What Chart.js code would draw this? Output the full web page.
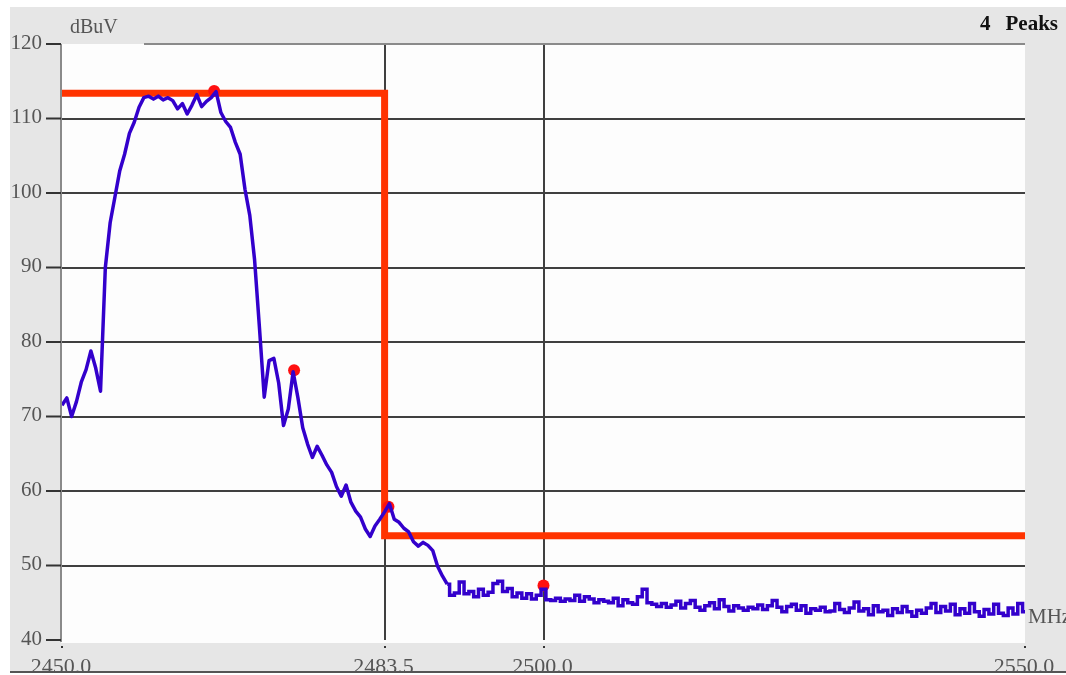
<!DOCTYPE html>
<html>
<head>
<meta charset="utf-8">
<title>Spectrum – 2450–2550 MHz</title>
<script src="https://cdn.jsdelivr.net/npm/chart.js@4/dist/chart.umd.min.js"></script>
<style>
  html, body { margin: 0; padding: 0; background: #fff; }
  canvas { display: block; }
</style>
</head>
<body>
<canvas id="spectrum" width="1066" height="675"></canvas>
<script>
/* ── Spectrum plot ────────────────────────────────────────────────────
   Analyzer trace (dBuV vs MHz) with the limit mask and 4 marked peaks.
   ──────────────────────────────────────────────────────────────────── */

const COLORS = {
  frame: '#e6e6e6',
  plot: '#fdfdfd',
  grid: '#404040',
  axis: '#8a8a8a',
  text: '#555',
  trace: '#3300cc',
  limit: '#ff3300',
  peak: '#ff1010',
};
const SERIF = '"Liberation Serif", "DejaVu Serif", serif';

// Sweep: one reading every 0.5 MHz from 2450.0 to 2550.0
const SWEEP_START = 2450;
const SWEEP_STEP = 0.5;
const traceLevel = [
  71.5, 72.5, 70.0, 72.0, 74.6, 76.3, 78.8, 76.5, 73.4, 90.0,        // 2450.0
  96.0, 99.5, 103.0, 105.2, 108.0, 109.5, 111.5, 112.8, 113.0, 112.6, // 2455.0
  113.0, 112.5, 112.8, 112.4, 111.3, 112.0, 110.6, 111.8, 113.2, 111.6, // 2460.0
  112.3, 112.8, 113.6, 110.8, 109.6, 108.8, 106.8, 105.2, 100.5, 97.0, // 2465.0
  91.0, 82.0, 72.6, 77.5, 77.8, 74.5, 68.8, 71.0, 76.0, 72.5,        // 2470.0
  68.5, 66.3, 64.5, 66.0, 64.8, 63.5, 62.5, 60.6, 59.3, 60.8,        // 2475.0
  58.5, 57.3, 56.5, 54.9, 53.9, 55.3, 56.2, 57.2, 58.3, 56.2,        // 2480.0
  55.8, 55.0, 54.5, 53.2, 52.6, 53.1, 52.7, 52.0, 49.9, 48.6,        // 2485.0
  47.5, 46.0, 46.3, 47.8, 46.2, 46.5, 45.8, 46.8, 46.0, 46.4,        // 2490.0
  47.6, 47.9, 46.5, 46.9, 45.8, 46.3, 45.6, 46.2, 45.5, 46.0,        // 2495.0
  46.8, 45.4, 45.3, 45.6, 45.2, 45.5, 45.3, 46.0, 45.2, 45.8,        // 2500.0
  45.5, 45.0, 45.4, 45.2, 45.0, 45.6, 44.6, 45.4, 45.0, 44.8,        // 2505.0
  45.8, 46.8, 45.0, 44.8, 44.5, 44.9, 44.4, 44.7, 45.2, 44.3,        // 2510.0
  44.9, 45.3, 44.4, 44.0, 44.6, 45.0, 44.2, 45.4, 44.5, 43.9,        // 2515.0
  44.6, 44.3, 44.0, 44.4, 44.2, 44.7, 44.1, 44.6, 45.3, 44.4,        // 2520.0
  43.8, 44.5, 44.8, 44.0, 44.6, 43.6, 44.2, 44.0, 44.4, 43.8,        // 2525.0
  43.9, 44.9, 44.1, 43.7, 44.3, 45.1, 43.9, 44.2, 43.4, 44.6,        // 2530.0
  43.8, 44.0, 43.3, 44.2, 43.7, 44.5, 43.8, 43.2, 44.0, 43.6,        // 2535.0
  44.3, 44.9, 43.7, 44.5, 43.9, 44.8, 43.4, 44.2, 43.6, 44.9,        // 2540.0
  43.8, 43.2, 44.1, 43.5, 44.8, 43.6, 43.3, 44.3, 43.5, 44.9,        // 2545.0
  43.8,                                                              // 2550.0
];
// Past this frequency the trace is a noise floor; drawn as held samples.
const NOISE_FLOOR_FROM = 2490;

// Limit mask (band edge at 2483.5 MHz)
const limitMHz = [2450, 2483.5, 2483.5, 2550];
const limitLevel = [113.4, 113.4, 54.0, 54.0];

// Marked peaks
const peakMHz = [2465.8, 2474.1, 2483.9, 2500.0];
const peakLevel = [113.7, 76.2, 57.9, 47.3];

// Axes
const yTickValues = [40, 50, 60, 70, 80, 90, 100, 110, 120];
const xTickValues = [2450, 2483.5, 2500, 2550];
const xTickLabels = ['2450.0', '2483.5', '2500.0', '2550.0'];
const xGridValues = [2483.5, 2500];

const tracePoints = traceLevel.map((v, i) => ({ x: SWEEP_START + i * SWEEP_STEP, y: v }));
const lobePoints = tracePoints.filter(p => p.x <= NOISE_FLOOR_FROM);
const floorPoints = tracePoints.filter(p => p.x >= NOISE_FLOOR_FROM);
const limitPoints = limitMHz.map((f, i) => ({ x: f, y: limitLevel[i] }));
const peakPoints = peakMHz.map((f, i) => ({ x: f, y: peakLevel[i] }));

// Frame, labels and tick marks drawn around the library's chart area.
const framePlugin = {
  id: 'frame',
  beforeDraw(chart) {
    const { ctx, chartArea: a } = chart;
    ctx.save();
    ctx.fillStyle = '#fff';
    ctx.fillRect(0, 0, chart.width, chart.height);
    ctx.fillStyle = COLORS.frame;
    ctx.fillRect(10, 7, chart.width - 10, 665);
    ctx.fillStyle = COLORS.plot;
    ctx.fillRect(a.left - 1, a.top, a.right - a.left + 1, a.bottom - a.top + 3);
    ctx.restore();
  },
  afterDraw(chart) {
    const { ctx, chartArea: a } = chart;
    const xs = chart.scales.x, ys = chart.scales.y;
    ctx.save();

    // left axis + top border
    ctx.strokeStyle = COLORS.axis;
    ctx.lineWidth = 2;
    ctx.beginPath();
    ctx.moveTo(a.left - 1, a.top);
    ctx.lineTo(a.left - 1, a.bottom + 2);
    ctx.moveTo(144, a.top);
    ctx.lineTo(a.right, a.top);
    ctx.stroke();

    // y ticks + labels
    ctx.font = `21px ${SERIF}`;
    ctx.fillStyle = COLORS.text;
    ctx.textAlign = 'right';
    ctx.textBaseline = 'middle';
    for (const v of yTickValues) {
      const y = ys.getPixelForValue(v);
      ctx.strokeStyle = '#333';
      ctx.beginPath();
      ctx.moveTo(46, y);
      ctx.lineTo(a.left - 1, y);
      ctx.stroke();
      ctx.fillText(String(v), 42, y - 1);
    }

    // x tick dots + labels
    ctx.font = `22px ${SERIF}`;
    ctx.textAlign = 'center';
    ctx.textBaseline = 'alphabetic';
    xTickValues.forEach((v, i) => {
      const x = xs.getPixelForValue(v);
      ctx.fillStyle = '#333';
      ctx.fillRect(Math.round(x) - 1, 646, 2, 2);
      ctx.fillStyle = COLORS.text;
      ctx.fillText(xTickLabels[i], x - 1, 673);
    });

    // bottom rule
    ctx.fillStyle = '#555';
    ctx.fillRect(10, 671, chart.width - 10, 2);

    // unit labels
    ctx.font = `20px ${SERIF}`;
    ctx.fillStyle = COLORS.text;
    ctx.textAlign = 'left';
    ctx.fillText('dBuV', 70, 33);
    ctx.font = `21px ${SERIF}`;
    ctx.fillText('MHz', 1028, 623);

    ctx.font = `bold 21px ${SERIF}`;
    ctx.fillStyle = '#111';
    ctx.fillText('4', 980, 30);
    ctx.textAlign = 'right';
    ctx.fillText('Peaks', 1058, 30);

    ctx.restore();
  },
};

new Chart(document.getElementById('spectrum'), {
  type: 'scatter',
  data: {
    datasets: [
      {
        label: 'Trace', data: lobePoints, showLine: true, order: 0,
        borderColor: COLORS.trace, borderWidth: 3.5, borderJoinStyle: 'round',
        pointRadius: 0, tension: 0,
      },
      {
        label: 'Trace (floor)', data: floorPoints, showLine: true, order: 0,
        borderColor: COLORS.trace, borderWidth: 3.5, borderJoinStyle: 'miter',
        stepped: 'middle', pointRadius: 0,
      },
      {
        label: 'Peaks', data: peakPoints, showLine: false, order: 1,
        pointRadius: 6, pointBackgroundColor: COLORS.peak, pointBorderWidth: 0,
      },
      {
        label: 'Limit', data: limitPoints, showLine: true, order: 2,
        borderColor: COLORS.limit, borderWidth: 7, borderJoinStyle: 'miter',
        pointRadius: 0, tension: 0,
      },
    ],
  },
  options: {
    responsive: false, animation: false, devicePixelRatio: 1,
    layout: { padding: { left: 62, right: 41, top: 44, bottom: 35 } },
    plugins: { legend: { display: false }, tooltip: { enabled: false } },
    scales: {
      x: {
        type: 'linear', min: 2450, max: 2550,
        afterBuildTicks: (s) => { s.ticks = xTickValues.map(v => ({ value: v })); },
        afterFit: (s) => { s.height = 0; },
        ticks: { display: false },
        border: { display: false },
        grid: {
          drawTicks: false, lineWidth: 2,
          color: (c) => (c.tick && xGridValues.includes(c.tick.value)) ? COLORS.grid : 'rgba(0,0,0,0)',
        },
      },
      y: {
        min: 40, max: 120,
        afterBuildTicks: (s) => { s.ticks = yTickValues.map(v => ({ value: v })); },
        afterFit: (s) => { s.width = 0; },
        ticks: { display: false },
        border: { display: false },
        grid: {
          drawTicks: false, lineWidth: 2,
          color: (c) => (c.tick && c.tick.value > 40 && c.tick.value < 120) ? COLORS.grid : 'rgba(0,0,0,0)',
        },
      },
    },
  },
  plugins: [framePlugin],
});
</script>
</body>
</html>
